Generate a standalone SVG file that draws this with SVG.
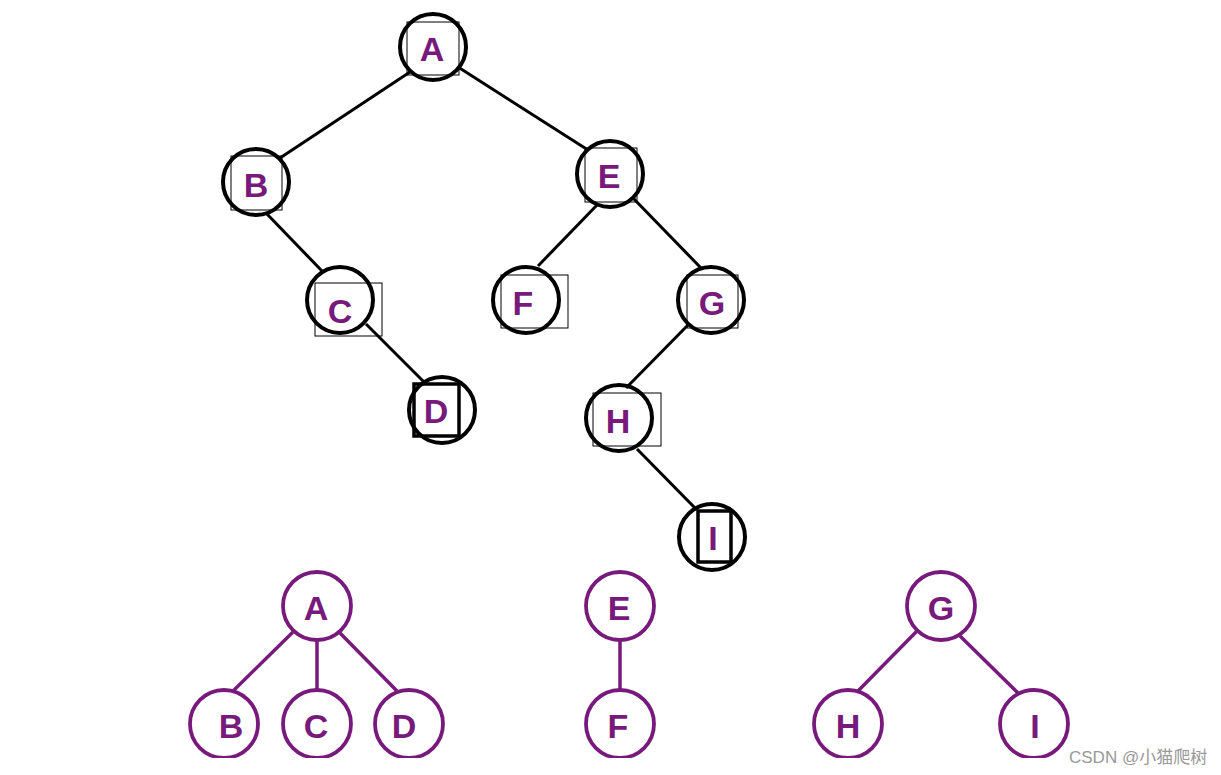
<svg xmlns="http://www.w3.org/2000/svg" width="1221" height="775" viewBox="0 0 1221 775">
<style>
.bc{fill:none;stroke:#000;stroke-width:4}
.pc{fill:none;stroke:#771a7c;stroke-width:3.8}
.bx{fill:none;stroke:#000;stroke-width:1}
.bxb{fill:none;stroke:#000;stroke-width:3.5}
.t{font-family:"Liberation Sans",Arial,sans-serif;font-weight:bold;font-size:34px;fill:#771a7c;text-anchor:middle}
.bl{stroke:#000;stroke-width:3}
.pl{stroke:#771a7c;stroke-width:3.5}
</style>
<rect width="1221" height="775" fill="#fff"/>
<g id="connectors">
<line class="bl" x1="410" y1="72" x2="280" y2="158"/>
<line class="bl" x1="458" y1="67" x2="588" y2="150"/>
<line class="bl" x1="266" y1="213" x2="322" y2="271"/>
<line class="bl" x1="366" y1="324" x2="424" y2="382"/>
<line class="bl" x1="598" y1="204" x2="538" y2="266"/>
<line class="bl" x1="633" y1="198" x2="701" y2="268"/>
<line class="bl" x1="688" y1="325" x2="626" y2="388"/>
<line class="bl" x1="637" y1="449" x2="697" y2="510"/>
<line class="pl" x1="293" y1="632" x2="232" y2="692"/>
<line class="pl" x1="317" y1="640" x2="317" y2="690"/>
<line class="pl" x1="339" y1="632" x2="397" y2="691"/>
<line class="pl" x1="620" y1="640" x2="620" y2="690"/>
<line class="pl" x1="917" y1="631" x2="857" y2="692"/>
<line class="pl" x1="960" y1="636" x2="1018" y2="693"/>
</g>
<g id="nA"><rect class="bx" x="407" y="22" width="52" height="53"/><circle class="bc" cx="433" cy="47" r="33"/><text class="t" x="432" y="61">A</text></g>
<g id="nB"><rect class="bx" x="231" y="156" width="51" height="54"/><circle class="bc" cx="256" cy="182" r="33"/><text class="t" x="256" y="197">B</text></g>
<g id="nC"><rect class="bx" x="315" y="283" width="67" height="53"/><circle class="bc" cx="340" cy="300" r="33"/><text class="t" x="340" y="323">C</text></g>
<g id="nD"><circle class="bc" cx="442" cy="410" r="33"/><rect class="bxb" x="414" y="384" width="45" height="52"/><text class="t" x="436" y="423">D</text></g>
<g id="nE"><rect class="bx" x="585" y="148" width="52" height="54"/><circle class="bc" cx="610" cy="174" r="33"/><text class="t" x="609" y="188">E</text></g>
<g id="nF"><rect class="bx" x="501" y="275" width="67" height="53"/><circle class="bc" cx="526" cy="300" r="33"/><text class="t" x="523" y="315">F</text></g>
<g id="nG"><rect class="bx" x="687" y="275" width="51" height="53"/><circle class="bc" cx="711" cy="300" r="33"/><text class="t" x="712" y="315">G</text></g>
<g id="nH"><rect class="bx" x="593" y="393" width="68" height="53"/><circle class="bc" cx="619" cy="418" r="33"/><text class="t" x="618" y="433">H</text></g>
<g id="nI"><circle class="bc" cx="712" cy="537" r="33"/><rect class="bxb" x="698" y="511" width="33" height="51"/><text class="t" x="713" y="550">I</text></g>
<g id="pA"><circle class="pc" cx="317" cy="606" r="34"/><text class="t" x="316" y="620">A</text></g>
<g id="pB"><circle class="pc" cx="224" cy="724" r="34"/><text class="t" x="231" y="738">B</text></g>
<g id="pC"><circle class="pc" cx="317" cy="724" r="34"/><text class="t" x="316" y="738">C</text></g>
<g id="pD"><circle class="pc" cx="409" cy="724" r="34"/><text class="t" x="404" y="738">D</text></g>
<g id="pE"><circle class="pc" cx="620" cy="606" r="34"/><text class="t" x="619" y="620">E</text></g>
<g id="pF"><circle class="pc" cx="620" cy="724" r="34"/><text class="t" x="618" y="738">F</text></g>
<g id="pG"><circle class="pc" cx="941" cy="606" r="34"/><text class="t" x="941" y="620">G</text></g>
<g id="pH"><circle class="pc" cx="848" cy="724" r="34"/><text class="t" x="848" y="738">H</text></g>
<g id="pI"><circle class="pc" cx="1034" cy="724" r="34"/><text class="t" x="1035" y="738">I</text></g>
<rect x="0" y="758" width="1221" height="17" fill="#fff"/>
<text x="1069" y="763" font-family="'Liberation Sans','Noto Sans CJK SC',sans-serif" font-size="17" fill="#999">CSDN @小猫爬树</text>
</svg>
